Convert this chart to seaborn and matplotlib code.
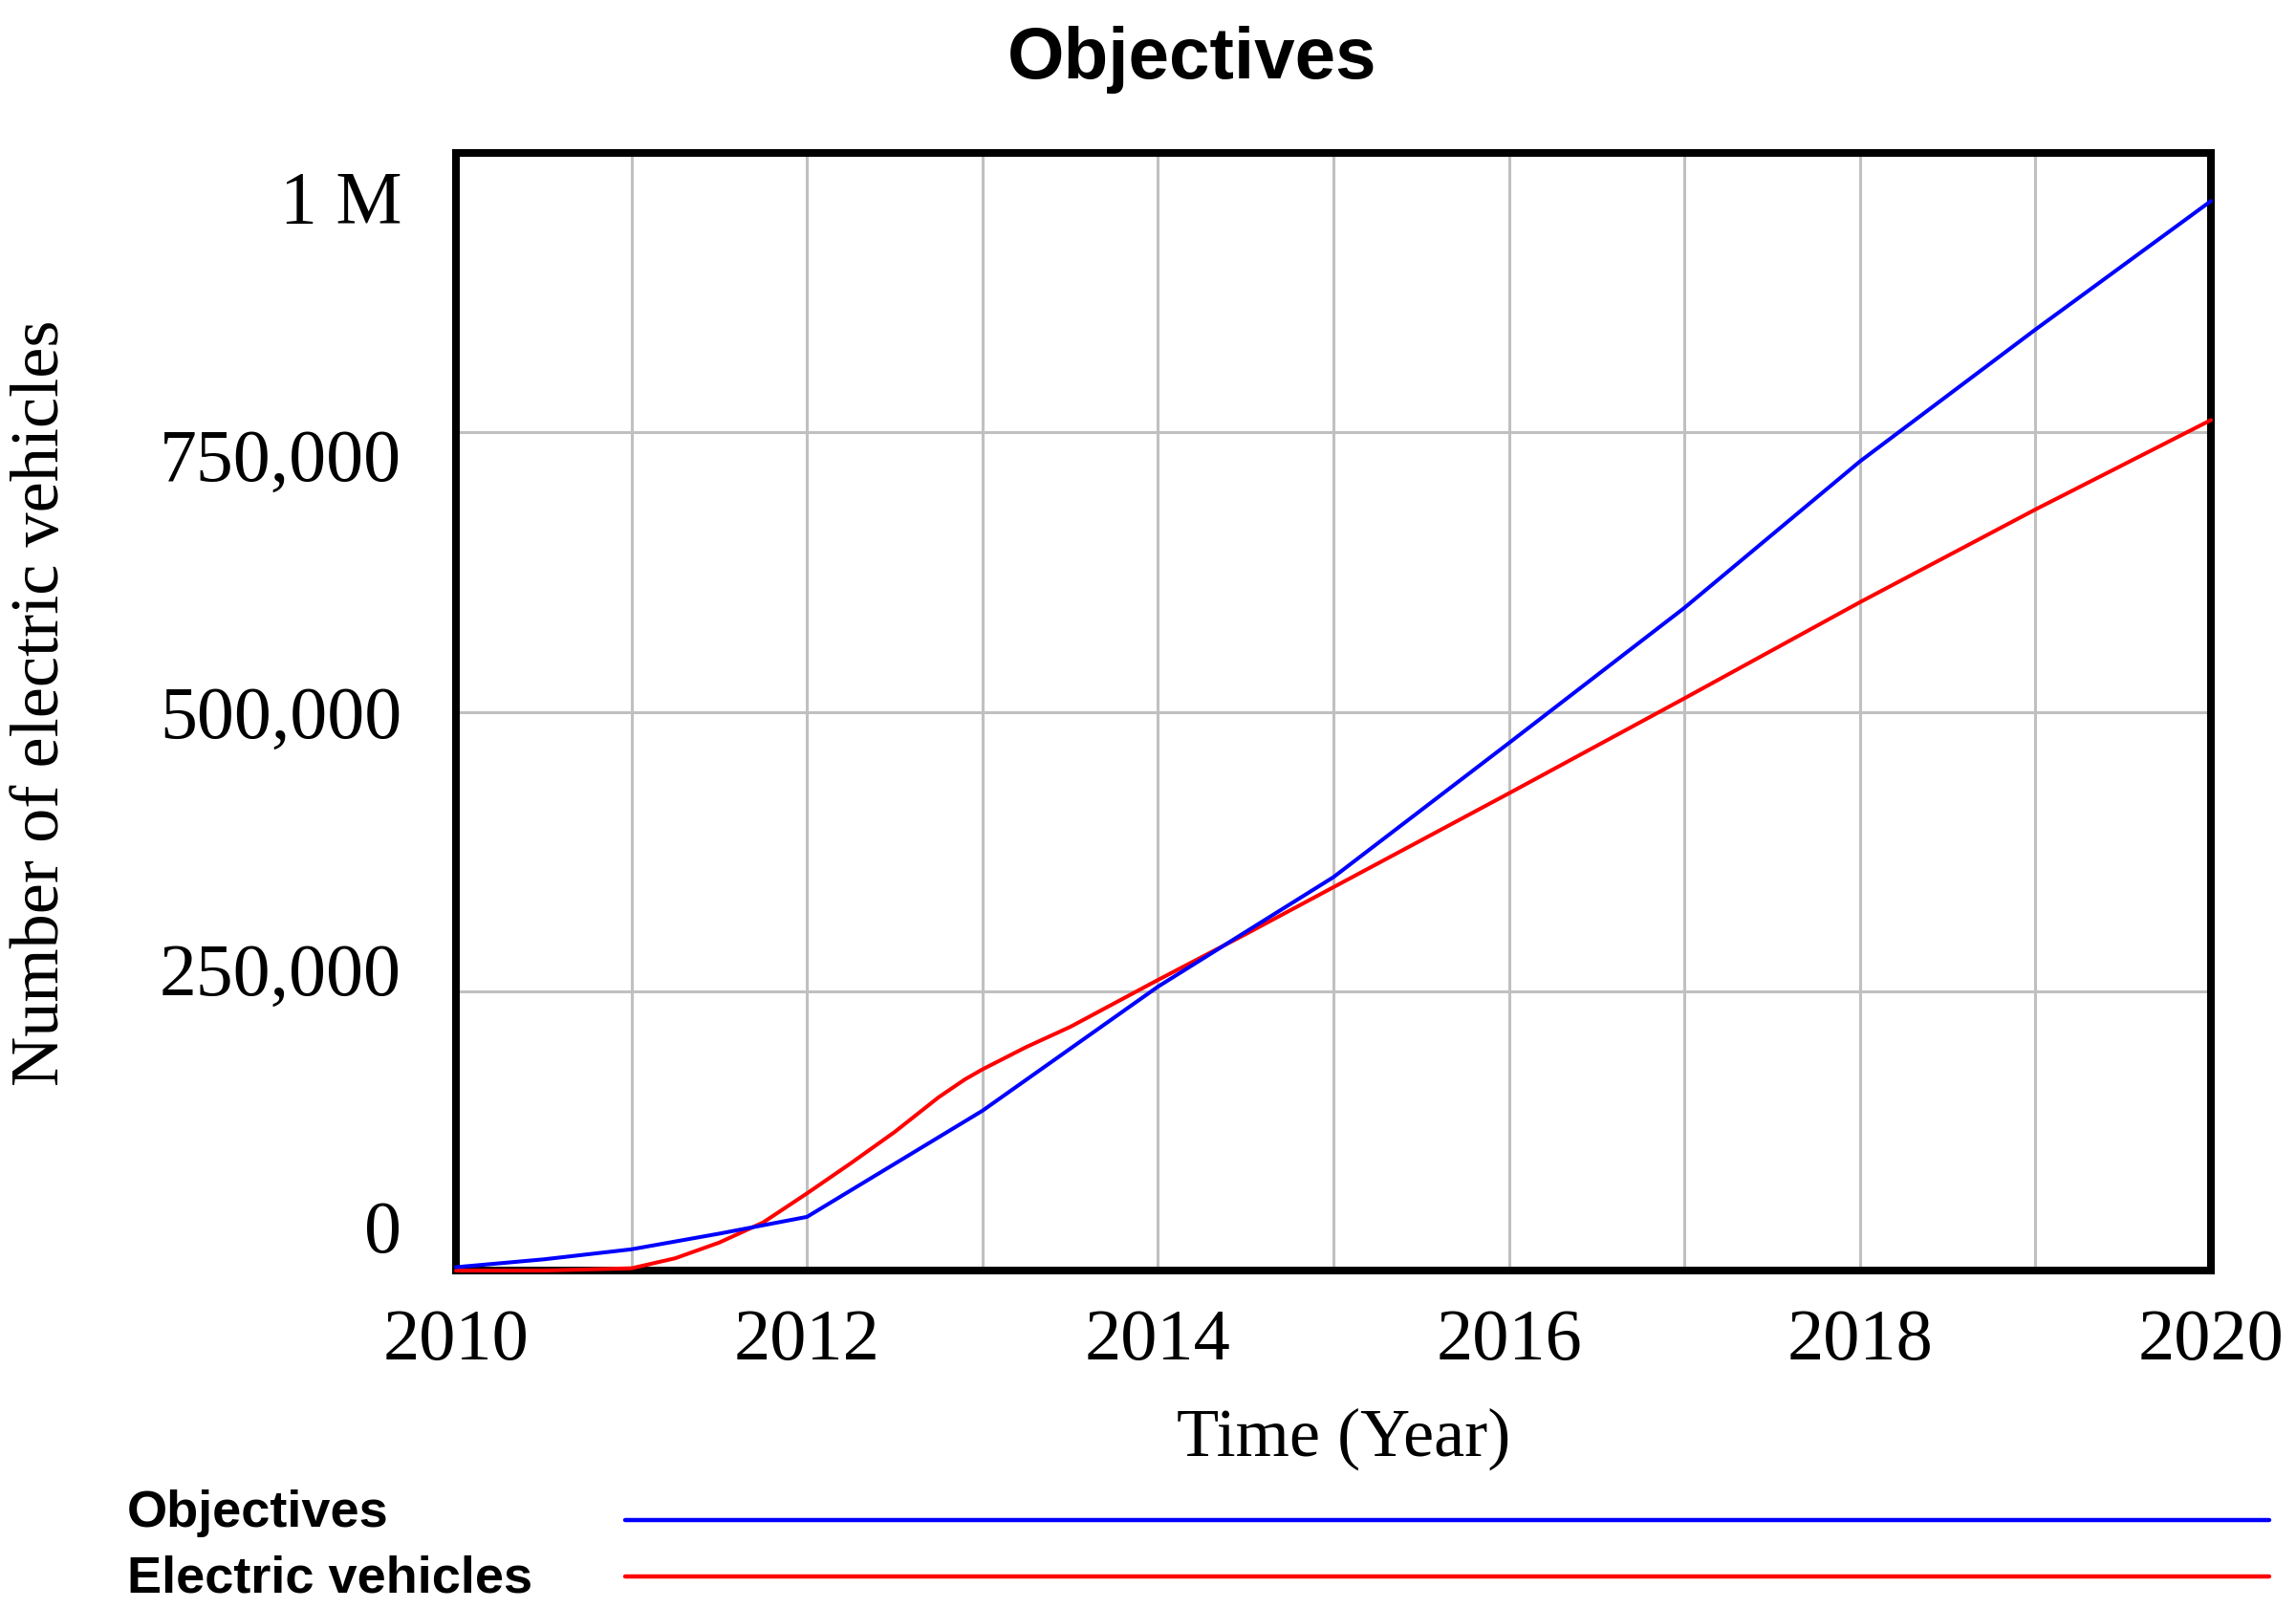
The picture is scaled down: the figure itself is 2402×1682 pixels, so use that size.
import matplotlib
matplotlib.use('Agg')
import matplotlib.pyplot as plt
import matplotlib.transforms as mtransforms
from matplotlib.lines import Line2D
import pandas as pd
import seaborn as sns

# values
obj_years = [2010, 2010.5, 2011, 2011.5, 2012, 2013, 2014, 2015, 2016, 2017, 2018, 2019, 2020]
obj_values = [3000, 10000, 19000, 33000, 48000, 143000, 254000, 352000, 472000,
              593000, 724000, 842000, 957000]

ev_years = [2010, 2010.5, 2011, 2011.25, 2011.5, 2011.75, 2012, 2012.25, 2012.5, 2012.75,
            2012.9, 2013, 2013.25, 2013.5, 2014, 2014.5, 2015, 2016, 2017, 2018, 2019, 2020]
ev_values = [0, 0, 2000, 11000, 25000, 43000, 69000, 96000, 124000, 155000,
             171000, 180000, 200000, 218000, 260000, 301000, 343000, 427000, 512000,
             598000, 681000, 761000]

series_names = ['Objectives', 'Electric vehicles']
series_colors = ['#0000ff', '#ff0000']

x_ticks = [2010, 2012, 2014, 2016, 2018, 2020]
x_grid = list(range(2010, 2021))
y_ticks = [0, 250000, 500000, 750000, 1000000]
y_tick_labels = ['0', '250,000', '500,000', '750,000', '1 M']

W, H = 2402, 1682

sns.set_theme(style='white')
plt.rcParams['font.family'] = ['Liberation Serif', 'DejaVu Serif']
plt.rcParams['text.color'] = 'black'
plt.rcParams['axes.labelcolor'] = 'black'
plt.rcParams['xtick.color'] = 'black'
plt.rcParams['ytick.color'] = 'black'
sans = ['Liberation Sans', 'DejaVu Sans']

df = pd.concat([
    pd.DataFrame({'year': obj_years, 'value': obj_values, 'series': series_names[0]}),
    pd.DataFrame({'year': ev_years, 'value': ev_values, 'series': series_names[1]}),
])

fig = plt.figure(figsize=(W / 100, H / 100), dpi=100)
ax = fig.add_axes([477 / W, 1 - 1329 / H, (2313 - 477) / W, (1329 - 160) / H])

sns.lineplot(data=df, x='year', y='value', hue='series',
             hue_order=[series_names[1], series_names[0]],
             palette=dict(zip(series_names, series_colors)),
             legend=False, errorbar=None, lw=2.9, ax=ax)
for line in ax.lines:
    line.set_clip_on(False)
    line.set_zorder(4)

ax.set_xlim(2010, 2020)
ax.set_ylim(0, 1000000)
ax.set_xticks(x_ticks, [str(y) for y in x_ticks])
ax.set_xticks(x_grid, minor=True)
ax.set_yticks(y_ticks, y_tick_labels)
ax.set_axisbelow(True)
ax.grid(which='both', color='#c0c0c0', lw=2.2)
ax.tick_params(which='both', length=0)
ax.tick_params(axis='x', pad=29, labelsize=55, labelcolor='black')
ax.tick_params(axis='y', pad=41, labelsize=56, labelcolor='black')
for s in ax.spines.values():
    s.set_color('black')
    s.set_linewidth(5.8)

# Vensim style: y labels squeezed towards the middle of the axis
for tick, v in zip(ax.yaxis.get_major_ticks(), y_ticks):
    up = 46 * (1 - 2 * v / 1000000) / 100
    tick.label1.set_transform(tick.label1.get_transform()
                              + mtransforms.ScaledTranslation(0, up, fig.dpi_scale_trans))

ax.set_xlabel('Time (Year)', fontsize=52, color='black')
ax.set_ylabel('Number of electric vehicles', fontsize=52, color='black')
ax.xaxis.set_label_coords(0.506, -0.151)
ax.xaxis.label.set_va('center')
ax.yaxis.set_label_coords(-0.236, 0.508)
ax.yaxis.label.set_va('center')

fig.text(0.519, 1 - 82 / H, 'Objectives', ha='center', va='baseline',
         fontsize=55, fontweight='bold', family=sans, color='black')

# legend below the chart
text_base = [1597, 1666]
line_y = [1590, 1649]
for name, color, tb, ly in zip(series_names, series_colors, text_base, line_y):
    fig.text(133 / W, 1 - tb / H, name, ha='left', va='baseline',
             fontsize=39, fontweight='bold', family=sans, color='black')
    fig.add_artist(Line2D([654 / W, 2374 / W], [1 - ly / H, 1 - ly / H],
                          color=color, lw=3.2, transform=fig.transFigure))

fig.savefig('out.png', dpi=100, facecolor='white')
